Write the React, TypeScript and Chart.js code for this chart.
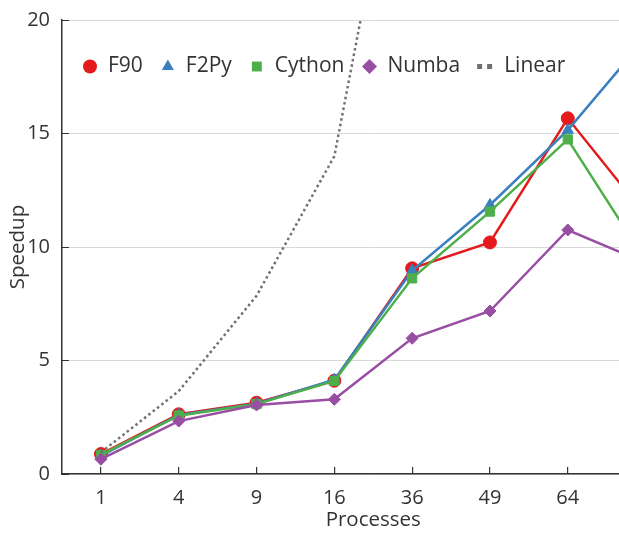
import React, { useEffect, useRef } from 'react';
import { Chart, registerables } from 'chart.js';

Chart.register(...registerables);

// ---- data ----
const processes = ['1', '4', '9', '16', '36', '49', '64', '81'];
const f90 = [0.88, 2.63, 3.14, 4.11, 9.06, 10.2, 15.67, 11.4];
const f2py = [0.8, 2.6, 3.1, 4.15, 8.96, 11.85, 15.15, 19.2];
const cython = [0.84, 2.57, 3.08, 4.1, 8.62, 11.56, 14.74, 9.4];
const numba = [0.65, 2.33, 3.04, 3.29, 5.98, 7.18, 10.75, 9.3];
const linear = [0.95, 3.65, 7.85, 14.0, 31.8, 43.5, 56.5, 71.0];
const seriesNames = ['F90', 'F2Py', 'Cython', 'Numba', 'Linear'];
const yMin = 0;
const yMax = 20;
const yStep = 5;

const FONT = "'Open Sans', 'DejaVu Sans', sans-serif";
const TEXT = '#333333';

const drawMarker = (ctx: CanvasRenderingContext2D, style: string, x: number, y: number, r: number) => {
  ctx.beginPath();
  if (style === 'circle') {
    ctx.arc(x, y, r, 0, Math.PI * 2);
  } else if (style === 'triangle') {
    ctx.moveTo(x, y - r);
    ctx.lineTo(x + r * 0.866, y + r * 0.5);
    ctx.lineTo(x - r * 0.866, y + r * 0.5);
    ctx.closePath();
  } else if (style === 'rect') {
    const s = r * Math.SQRT1_2;
    ctx.rect(x - s, y - s, 2 * s, 2 * s);
  } else if (style === 'rectRot') {
    ctx.moveTo(x, y - r);
    ctx.lineTo(x + r, y);
    ctx.lineTo(x, y + r);
    ctx.lineTo(x - r, y);
    ctx.closePath();
  }
  ctx.fill();
};

const insideLegend = {
  id: 'insideLegend',
  afterDraw(chart: any) {
    const { ctx, chartArea } = chart;
    ctx.save();
    ctx.font = `21px ${FONT}`;
    ctx.textBaseline = 'middle';
    let x = chartArea.left + 28;
    const y = chartArea.top + 46.5;
    chart.data.datasets.forEach((ds: any) => {
      const style = ds.legendStyle as string;
      ctx.fillStyle = ds.borderColor;
      let half = 7;
      if (style === 'line') {
        ctx.strokeStyle = ds.borderColor;
        ctx.lineWidth = 5;
        ctx.setLineDash([5, 5]);
        ctx.beginPath();
        ctx.moveTo(x - 8, y);
        ctx.lineTo(x + 7, y);
        ctx.stroke();
        ctx.setLineDash([]);
        half = 8;
      } else {
        const r = style === 'rect' ? 7 : style === 'rectRot' ? 7.5 : 7;
        drawMarker(ctx, style, x, y, r);
      }
      ctx.fillStyle = TEXT;
      ctx.fillText(ds.label, x + half + 11, y);
      const w = ctx.measureText(ds.label).width;
      x = x + half + 11 + w + 25;
    });
    ctx.restore();
  },
};

const App: React.FC = () => {
  const ref = useRef<HTMLCanvasElement | null>(null);

  useEffect(() => {
    if (!ref.current) return;
    Chart.defaults.font.family = FONT;
    const mk = (label: string, data: number[], color: string, pointStyle: string, order: number, radius: number) => ({
      label,
      data,
      borderColor: color,
      backgroundColor: color,
      pointBackgroundColor: color,
      pointBorderColor: color,
      pointStyle,
      legendStyle: pointStyle,
      pointRadius: radius,
      pointBorderWidth: 1,
      borderWidth: 2.5,
      tension: 0,
      order,
    });
    const chart = new Chart(ref.current, {
      type: 'line',
      data: {
        labels: processes,
        datasets: [
          mk(seriesNames[0], f90, '#e41a1c', 'circle', 5, 6.5),
          mk(seriesNames[1], f2py, '#3a80bf', 'triangle', 4, 6.5),
          mk(seriesNames[2], cython, '#4daf4a', 'rect', 3, 6.5),
          mk(seriesNames[3], numba, '#984ea3', 'rectRot', 2, 6),
          {
            label: seriesNames[4],
            data: linear,
            borderColor: '#707070',
            backgroundColor: '#707070',
            borderWidth: 2.5,
            borderDash: [2.5, 3],
            pointRadius: 0,
            legendStyle: 'line',
            tension: 0,
            order: 1,
          } as any,
        ],
      },
      options: {
        animation: false,
        responsive: false,
        maintainAspectRatio: false,
        devicePixelRatio: 1,
        layout: { padding: { top: 20, right: 0, left: 0, bottom: 0 } },
        plugins: {
          legend: { display: false },
          tooltip: { enabled: false },
        },
        scales: {
          x: {
            type: 'category',
            offset: true,
            grid: {
              display: true,
              drawOnChartArea: false,
              drawTicks: true,
              tickLength: -7,
              offset: false,
              color: '#333333',
              tickColor: '#333333',
              lineWidth: 1.2,
            },
            border: { color: '#333333', width: 1.5 },
            ticks: {
              font: { size: 20, family: FONT },
              color: TEXT,
              padding: 19,
              maxRotation: 0,
              autoSkip: false,
            },
            title: {
              display: true,
              text: 'Processes',
              font: { size: 20.5, family: FONT },
              color: TEXT,
              padding: { top: 0, bottom: 2 },
            },
            afterFit: (s: any) => {
              s.height = 60;
            },
          },
          y: {
            min: yMin,
            max: yMax,
            grid: {
              color: '#d9d9d9',
              lineWidth: 1,
              drawTicks: true,
              tickLength: -7,
              tickColor: '#333333',
            },
            border: { color: '#333333', width: 1.5 },
            ticks: {
              stepSize: yStep,
              font: { size: 20, family: FONT },
              color: TEXT,
              padding: 19,
            },
            title: {
              display: true,
              text: 'Speedup',
              font: { size: 20.5, family: FONT },
              color: TEXT,
              padding: { top: 6, bottom: 0 },
            },
            afterFit: (s: any) => {
              s.width = 62;
              s.paddingTop = 0;
              s.paddingBottom = 0;
            },
          },
        },
      } as any,
      plugins: [insideLegend],
    });
    return () => chart.destroy();
  }, []);

  return (
    <div style={{ position: 'fixed', left: 0, top: 0, width: 619, height: 534, overflow: 'hidden', background: '#fff' }}>
      <canvas ref={ref} width={692} height={534} style={{ display: 'block', width: 692, height: 534 }} />
    </div>
  );
};

export default App;
